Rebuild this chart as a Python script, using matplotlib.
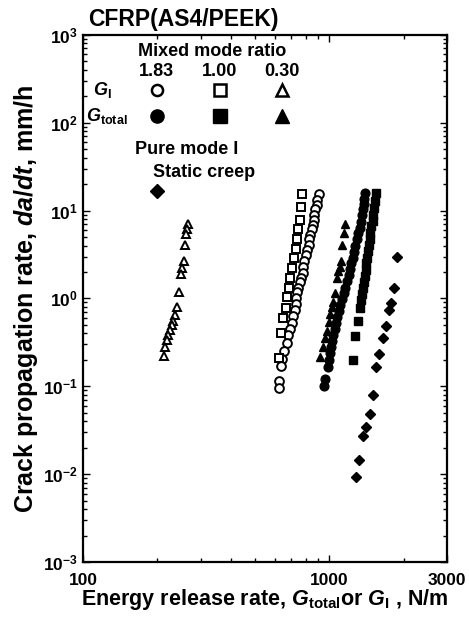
import matplotlib
matplotlib.use('Agg')
import matplotlib.pyplot as plt
from matplotlib.ticker import FixedLocator, NullFormatter, FixedFormatter, LogLocator

plt.rcParams['font.family'] = ['Liberation Sans', 'DejaVu Sans']
plt.rcParams['font.weight'] = 'bold'
plt.rcParams['mathtext.fontset'] = 'custom'
plt.rcParams['mathtext.rm'] = 'Liberation Sans:bold'
plt.rcParams['mathtext.it'] = 'Liberation Sans:italic:bold'
plt.rcParams['mathtext.bf'] = 'Liberation Sans:bold'

# ratio 0.30, G_I (open triangles)
tri_open_x = [267, 264, 263, 259, 257, 252, 249, 245, 240, 236, 232, 229, 225, 222, 219, 215, 213]
tri_open_y = [7.1, 6.1, 5.4, 4.1, 2.7, 2.2, 1.9, 1.18, 0.80, 0.64, 0.56, 0.493, 0.433, 0.380, 0.333, 0.280, 0.219]

# ratio 1.83, G_I (open circles)
circ_open_x = [907, 891, 887, 878, 870, 862, 854, 846, 838, 830, 823, 811, 804, 792, 785, 778, 767,
               760, 749, 742, 735, 729, 722, 712, 702, 692, 682, 670, 654, 645, 639, 627, 622]
circ_open_y = [15.6, 13.3, 11.7, 10.3, 9.0, 7.9, 6.9, 6.1, 5.3, 4.7, 4.1, 3.6, 3.1, 2.7, 2.3, 1.97, 1.73,
               1.52, 1.33, 1.17, 1.0, 0.855, 0.731, 0.624, 0.520, 0.445, 0.380, 0.308, 0.250, 0.203, 0.169, 0.114, 0.095]

# ratio 1.00, G_I (open squares)
sq_open_x = [774, 767, 760, 749, 739, 729, 718, 705, 695, 686, 673, 664, 651, 639, 627]
sq_open_y = [15.6, 11.1, 7.9, 6.1, 4.7, 3.7, 2.9, 2.2, 1.69, 1.30, 1.03, 0.77, 0.593, 0.400, 0.208]

# ratio 1.83, G_total (filled circles)
circ_fill_x = [1395, 1382, 1376, 1363, 1350, 1338, 1325, 1307, 1294, 1276, 1264, 1247, 1229, 1212, 1196, 1179,
               1162, 1146, 1125, 1104, 1089, 1074, 1064, 1054, 1039, 1025, 1015, 1006, 996, 987, 964, 955]
circ_fill_y = [16.0, 13.7, 12.0, 10.3, 8.8, 7.5, 6.4, 5.5, 4.7, 4.0, 3.4, 2.9, 2.5, 2.14, 1.83, 1.56,
               1.33, 1.14, 0.975, 0.832, 0.712, 0.608, 0.520, 0.445, 0.380, 0.324, 0.277, 0.237, 0.197, 0.164, 0.120, 0.100]

# ratio 1.00, G_total (filled squares)
sq_fill_x = [1546, 1531, 1524, 1510, 1496, 1482, 1468, 1455, 1448, 1435, 1421, 1408, 1402, 1389, 1376, 1363,
             1350, 1338, 1325, 1307, 1270, 1247]
sq_fill_y = [16.0, 13.0, 10.8, 9.0, 7.7, 6.6, 5.6, 4.8, 4.1, 3.5, 2.9, 2.5, 2.08, 1.78, 1.52, 1.30,
             1.11, 0.95, 0.77, 0.56, 0.370, 0.197]

# ratio 0.30, G_total (filled triangles)
tri_fill_x = [1157, 1141, 1120, 1110, 1099, 1084, 1069, 1054, 1034, 1020, 1006, 992, 978, 960, 942, 916]
tri_fill_y = [7.1, 5.6, 4.1, 2.7, 2.3, 2.03, 1.73, 1.14, 0.90, 0.79, 0.658, 0.534, 0.422, 0.351, 0.277, 0.214]

# pure mode I static creep (filled diamonds)
dia_x = [1881, 1837, 1786, 1746, 1690, 1643, 1597, 1546, 1496, 1455, 1408, 1363, 1319, 1282]
dia_y = [3.0, 1.30, 0.877, 0.731, 0.487, 0.351, 0.231, 0.164, 0.079, 0.048, 0.034, 0.027, 0.0144, 0.0092]

ratios = ['1.83', '1.00', '0.30']

fig = plt.figure(figsize=(4.69, 6.23), dpi=100)
ax = fig.add_axes([0.177, 0.098, 0.776, 0.846])

ms = 6.3
ax.plot(tri_open_x, tri_open_y, '^', ms=ms, mfc='white', mec='black', mew=1.4, ls='none')
ax.plot(circ_open_x, circ_open_y, 'o', ms=ms, mfc='white', mec='black', mew=1.4, ls='none')
ax.plot(sq_open_x, sq_open_y, 's', ms=ms, mfc='white', mec='black', mew=1.4, ls='none')
ax.plot(tri_fill_x, tri_fill_y, '^', ms=ms, color='black', ls='none')
ax.plot(circ_fill_x, circ_fill_y, 'o', ms=ms, color='black', ls='none')
ax.plot(sq_fill_x, sq_fill_y, 's', ms=ms, color='black', ls='none')
ax.plot(dia_x, dia_y, 'D', ms=5, color='black', ls='none')

ax.set_xscale('log')
ax.set_yscale('log')
ax.set_xlim(100, 3000)
ax.set_ylim(1e-3, 1e3)

ax.xaxis.set_major_locator(FixedLocator([100, 1000, 3000]))
ax.xaxis.set_major_formatter(FixedFormatter(['100', '1000', '3000']))
ax.xaxis.set_minor_locator(FixedLocator([200, 300, 400, 500, 600, 700, 800, 900, 2000]))
ax.xaxis.set_minor_formatter(NullFormatter())
ax.yaxis.set_major_locator(LogLocator(base=10, numticks=10))
ax.yaxis.set_minor_locator(LogLocator(base=10, subs=range(2, 10), numticks=10))
ax.yaxis.set_minor_formatter(NullFormatter())

ax.tick_params(which='both', direction='in', top=True, right=True, labelsize=12.5, width=1)
ax.tick_params(which='major', length=5)
ax.tick_params(which='minor', length=3)
ax.tick_params(axis='x', pad=8)
for s in ax.spines.values():
    s.set_linewidth(1.6)

ax.set_xlabel(r'Energy release rate, $G_{\rm total}$or $G_{\rm I}$ , N/m', fontsize=15.5, fontweight='bold', labelpad=-1)
ax.set_ylabel(r'Crack propagation rate, $da$/$dt$, mm/h', fontsize=18, fontweight='bold', labelpad=2)
fig.text(0.187, 0.968, 'CFRP(AS4/PEEK)', fontsize=16.5, fontweight='bold', ha='left', va='center')

# legend block
t = ax.transAxes
ax.text(0.354, 0.968, 'Mixed mode ratio', transform=t, ha='center', va='center', fontsize=13, fontweight='bold')
cols = [0.203, 0.376, 0.547]
for cx, r in zip(cols, ratios):
    ax.text(cx, 0.931, r, transform=t, ha='center', va='center', fontsize=13, fontweight='bold')
ax.text(0.027, 0.895, r'$G_{\rm I}$', transform=t, ha='left', va='center', fontsize=13)
ax.text(0.008, 0.846, r'$G_{\rm total}$', transform=t, ha='left', va='center', fontsize=13)
for cx, m in zip(cols, ['o', 's', '^']):
    ax.plot([cx], [0.895], m, transform=t, ms=8, mfc='white', mec='black', mew=1.8)
    ax.plot([cx], [0.846], m, transform=t, ms=9.5, color='black')
ax.text(0.143, 0.782, 'Pure mode I', transform=t, ha='left', va='center', fontsize=13, fontweight='bold')
ax.text(0.192, 0.738, 'Static creep', transform=t, ha='left', va='center', fontsize=13, fontweight='bold')
ax.plot([0.203], [0.704], 'D', transform=t, ms=7, color='black')

fig.savefig('out.png', dpi=100)
